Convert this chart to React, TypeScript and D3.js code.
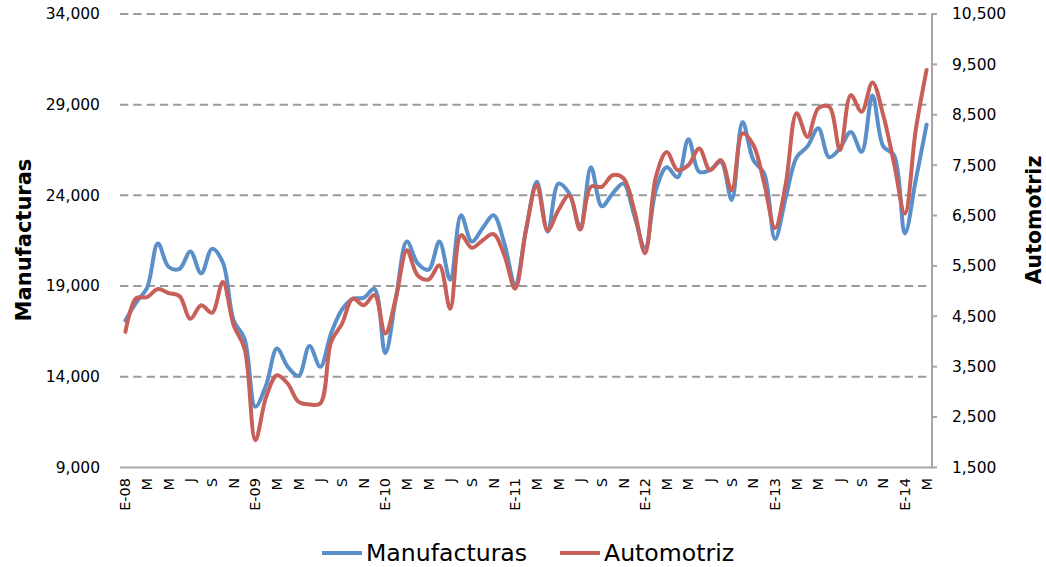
import React from "react";
import * as d3 from "d3";

const tickLabels = [
  "E-08", "M", "M", "J", "S", "N",
  "E-09", "M", "M", "J", "S", "N",
  "E-10", "M", "M", "J", "S", "N",
  "E-11", "M", "M", "J", "S", "N",
  "E-12", "M", "M", "J", "S", "N",
  "E-13", "M", "M", "J", "S", "N",
  "E-14", "M",
];

const manufacturas = [
  17100, 18100, 18900, 21350, 20050, 19950, 20900, 19700, 21050, 20300, 17100, 16100,
  12350, 13550, 15550, 14550, 14050, 15700, 14550, 16400, 17700, 18300, 18350, 18850,
  15300, 18400, 21450, 20250, 19900, 21450, 19350, 22900, 21450, 22200, 22900, 21350,
  19100, 22100, 24750, 22000, 24650, 24100, 22250, 25550, 23400, 24100, 24650, 22900,
  21100, 24300, 25550, 25000, 27100, 25300, 25400, 25850, 23750, 28050, 25950, 25200,
  21600, 23900, 26100, 26700, 27700, 26100, 26600, 27500, 26400, 29500, 26700, 26200,
  21900, 24850, 27900,
];

const automotriz = [
  4190, 4860, 4880, 5040, 4960, 4900, 4450, 4720, 4570, 5180, 4320, 3860,
  2040, 2900, 3330, 3160, 2800, 2750, 2770, 3990, 4350, 4850, 4720, 4920,
  4160, 4880, 5810, 5310, 5230, 5510, 4650, 6110, 5860, 6010, 6130, 5710,
  5050, 6210, 7100, 6210, 6610, 6900, 6220, 7070, 7070, 7300, 7240, 6610,
  5750, 7270, 7760, 7400, 7500, 7830, 7400, 7600, 7000, 8130, 7900, 7140,
  6250, 7140, 8530, 8060, 8630, 8660, 7800, 8890, 8560, 9140, 8490, 7530,
  6540, 8200, 9390,
];

const leftTicks = [9000, 14000, 19000, 24000, 29000, 34000];
const rightTicks = [1500, 2500, 3500, 4500, 5500, 6500, 7500, 8500, 9500, 10500];

const BLUE = "#5B8FC9";
const RED = "#C8605A";
const FONT = "'DejaVu Sans', sans-serif";

export default function App() {
  const W = 1046, H = 567;
  const left = 120, right = 932, top = 14, bottom = 467.4;
  const idx = manufacturas.map((_, i) => i);
  const x = d3.scaleBand<number>().domain(idx).range([left, right]);
  const cx = (i: number) => (x(i) as number) + x.bandwidth() / 2;
  const yL = d3.scaleLinear().domain([9000, 34000]).range([bottom, top]);
  const yR = d3.scaleLinear().domain([1500, 10500]).range([bottom, top]);
  const fmt = d3.format(",");

  const lineL = d3.line<number>()
    .x((_, i) => cx(i))
    .y((d) => yL(d))
    .curve(d3.curveCatmullRom.alpha(0.5));
  const lineR = d3.line<number>()
    .x((_, i) => cx(i))
    .y((d) => yR(d))
    .curve(d3.curveCatmullRom.alpha(0.5));

  return (
    <svg width={W} height={H} style={{ position: "absolute", left: 0, top: 0, background: "#fff" }}
      fontFamily={FONT}>
      {/* grid lines */}
      {leftTicks.filter((t) => t !== 9000).map((t) => (
        <line key={"g" + t} x1={left} x2={right} y1={yL(t)} y2={yL(t)}
          stroke="#9a9a9a" strokeWidth={2} strokeDasharray="8.3,5" />
      ))}
      {/* left tick labels */}
      {leftTicks.map((t) => (
        <text key={"l" + t} x={100} y={yL(t)} dy="0.35em" textAnchor="end" fontSize={15.5} fill="#000">
          {fmt(t)}
        </text>
      ))}
      {/* bottom axis */}
      <line x1={left} x2={right} y1={bottom} y2={bottom} stroke="#a6a6a6" strokeWidth={2} />
      {/* right axis */}
      <line x1={right} x2={right} y1={top} y2={bottom + 1} stroke="#a6a6a6" strokeWidth={2} />
      {rightTicks.map((t) => (
        <g key={"r" + t}>
          <line x1={right} x2={right + 5} y1={yR(t)} y2={yR(t)} stroke="#a6a6a6" strokeWidth={2} />
          <text x={952} y={yR(t)} dy="0.35em" textAnchor="start" fontSize={15.5} fill="#000">
            {fmt(t)}
          </text>
        </g>
      ))}
      {/* x tick labels */}
      {tickLabels.map((lab, k) => {
        const px = cx(k * 2);
        return (
          <text key={"x" + k} transform={`translate(${px},478) rotate(-90)`} dy="0.35em"
            textAnchor="end" fontSize={14.5} fill="#000">
            {lab}
          </text>
        );
      })}
      {/* series */}
      <path d={lineL(manufacturas) as string} fill="none" stroke={BLUE} strokeWidth={4}
        strokeLinejoin="round" strokeLinecap="round" />
      <path d={lineR(automotriz) as string} fill="none" stroke={RED} strokeWidth={4}
        strokeLinejoin="round" strokeLinecap="round" />
      {/* axis titles */}
      <text transform="translate(24,240) rotate(-90)" dy="0.35em" textAnchor="middle"
        fontSize={21} fontWeight="bold" fill="#000">Manufacturas</text>
      <text transform="translate(1034,220) rotate(-90)" dy="0.35em" textAnchor="middle"
        fontSize={20.5} fontWeight="bold" fill="#000">Automotriz</text>
      {/* legend */}
      <line x1={322} x2={362} y1={553} y2={553} stroke={BLUE} strokeWidth={4} />
      <text x={366} y={553} dy="0.35em" fontSize={23.6} fill="#000">Manufacturas</text>
      <line x1={560} x2={600} y1={553} y2={553} stroke={RED} strokeWidth={4} />
      <text x={604} y={553} dy="0.35em" fontSize={23.6} fill="#000">Automotriz</text>
    </svg>
  );
}
